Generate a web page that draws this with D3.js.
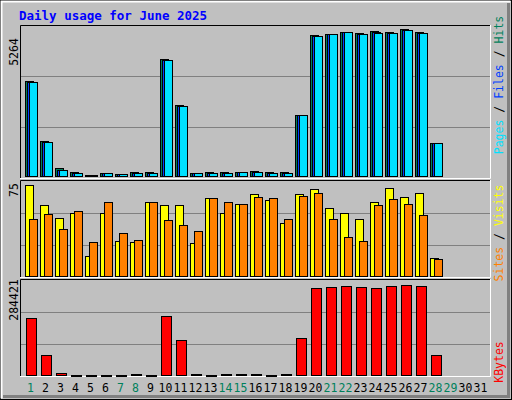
<!DOCTYPE html>
<html><head><meta charset="utf-8">
<script src="https://cdn.jsdelivr.net/npm/d3@7"></script>
<style>body{margin:0;background:#fff}svg{display:block}</style>
</head><body>
<script>
const days = d3.range(1,32);
const weekend = [1,7,8,14,15,21,22,28,29];
const hits  = [3347,1245,314,160,70,140,105,175,175,4103,2500,140,175,175,175,210,175,175,2150,4950,4985,5043,5020,5078,5043,5160,5043,1175,0,0,0];
const files = [3320,1225,260,140,62,140,102,140,140,4085,2480,140,140,140,175,185,140,140,2150,4930,4985,5043,4990,5040,5030,5130,5030,1175,0,0,0];
const pages = [3300,1210,233,128,60,140,100,128,128,4068,2465,140,128,128,175,175,128,128,2150,4916,4985,5043,4973,5020,5020,5113,5020,1175,0,0,0];
const visits= [71.6,56,46,50,16,50,28,27.5,58.5,56,56,26.7,61.5,50,57,64.7,60,42,64.7,68.5,53.8,50,45,58.5,69.3,62.3,65.4,15,0,0,0];
const sites = [45,49,37.5,51.5,27.5,58,34,29,58.5,44.5,40.6,36,61.5,58,57,62.3,61.5,45,63,65.4,45,31.3,28,56,60.8,57,48.4,14.3,0,0,0];
const kbytes= [174100,63800,10100,1500,1500,1500,1500,7000,1500,180000,108500,7000,1500,7000,7000,7000,1500,7000,114500,263500,266500,269500,266500,263500,269500,272500,269500,63800,0,0,0];
const maxHits=5264, maxVisits=75, maxKB=284421;

const W=512,H=400;
const svg=d3.select("body").append("svg").attr("width",W).attr("height",H);
svg.append("rect").attr("width",W).attr("height",H).attr("fill","#c0c0c0");
svg.append("rect").attr("x",0.5).attr("y",0.5).attr("width",W-1).attr("height",H-1).attr("fill","none").attr("stroke","#000");
// bevel
svg.append("path").attr("d","M1.5,398.5V1.5H510.5").attr("stroke","#fff").attr("fill","none").attr("stroke-width",2);
svg.append("path").attr("d","M3,396.5H508.5V3").attr("stroke","#808080").attr("fill","none").attr("stroke-width",3);

const font="DejaVu Sans Mono, monospace";
svg.append("text").attr("x",19).attr("y",20).attr("font-family",font).attr("font-weight","bold").attr("font-size",12.5).attr("fill","#0000ff").text("Daily usage for June 2025");

const x=d3.scaleBand().domain(days).range([25,490]).paddingInner(0);
const L=20,R=490;
function panel(top,bot){
  svg.append("rect").attr("x",L).attr("y",top).attr("width",R-L).attr("height",bot-top).attr("fill","#c0c0c0");
  svg.append("path").attr("d",`M${L+0.5},${bot}V${top+0.5}H${R}`).attr("stroke","#000").attr("fill","none");
  svg.append("path").attr("d",`M${L},${bot+0.5}H${R+0.5}V${top}`).attr("stroke","#fff").attr("fill","none");
}
function grid(y){
  [1/3,2/3].forEach(f=>{const v=y.domain()[1]*f;
    svg.append("line").attr("x1",L+1).attr("x2",R).attr("y1",Math.round(y(v))+0.5).attr("y2",Math.round(y(v))+0.5).attr("stroke","#808080");});
}
function bars(data,y,dx,w,color){
  svg.append("g").selectAll("rect").data(data).join("rect")
   .filter(d=>d>0)
   .attr("x",(d,i)=>x(days[i])+dx+0.5).attr("width",w)
   .attr("y",d=>Math.round(y(d))+0.5).attr("height",d=>Math.max(1,y(0)-Math.round(y(d))-1))
   .attr("fill",color).attr("stroke","#000");
}
function vlabel(txt,xp,yc,parts){
  const t=svg.append("text").attr("transform",`translate(${xp},${yc}) rotate(-90)`).attr("font-family",font).attr("font-size",11.5).attr("text-anchor","middle");
  parts.forEach(p=>t.append("tspan").attr("fill",p[1]).text(p[0]));
}
// top
panel(25,178);
const y1=d3.scaleLinear().domain([0,maxHits]).range([177,26]);
grid(y1);
bars(hits,y1,0,8,"#00805c");
bars(files,y1,2,8,"#0040ff");
bars(pages,y1,4,8,"#00e0ff");
// middle
panel(180,277);
const y2=d3.scaleLinear().domain([0,maxVisits]).range([277,180.5]);
grid(y2);
bars(visits,y2,0,8,"#ffff00");
bars(sites,y2,4,8,"#ff8000");
// bottom
panel(279,376);
const y3=d3.scaleLinear().domain([0,maxKB]).range([376,280.5]);
grid(y3);
bars(kbytes,y3,1,10,"#ff0000");

// left labels
vlabel("",0,0,[]);
[[maxHits,52],[maxVisits,190],[maxKB,300]].forEach(([v,yc])=>{
  svg.append("text").attr("transform",`translate(18,${yc}) rotate(-90)`).attr("font-family",font).attr("font-size",11.5).attr("text-anchor","middle").attr("fill","#000").text(v);
});
vlabel("",0,0,[]);
vlabel("",0,0,[]);
vlabel("",0,0,[]);
vlabel("",0,0,[]);
vlabel("",0,0,[]);
// right labels
vlabel("",0,0,[]);
vlabel("",503,85,[["Pages","#00e0ff"],[" / ","#000"],["Files","#0040ff"],[" / ","#000"],["Hits","#00805c"]]);
vlabel("",503,233,[["Sites","#ff8000"],[" / ","#000"],["Visits","#ffff00"]]);
vlabel("",503,362,[["KBytes","#ff0000"]]);

// day labels
svg.append("g").selectAll("text").data(days).join("text")
 .attr("x",d=>x(d)+x.bandwidth()/2-2).attr("y",392).attr("text-anchor","middle")
 .attr("font-family",font).attr("font-size",11.5)
 .attr("fill",d=>weekend.includes(d)?"#00805c":"#000").text(d=>d);
</script>
</body></html>
